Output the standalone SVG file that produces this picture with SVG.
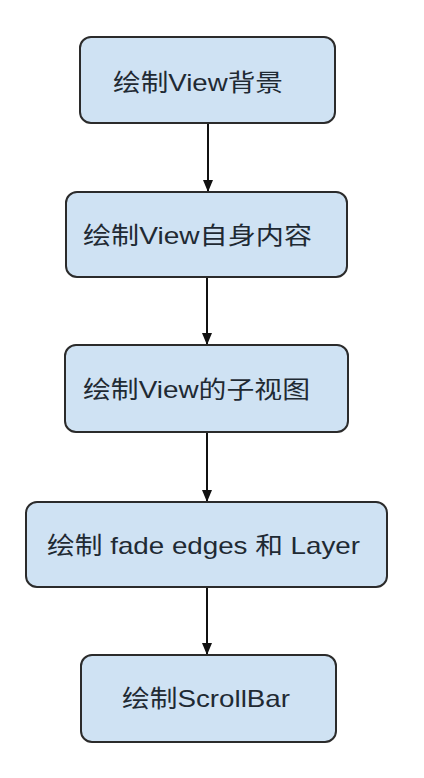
<svg xmlns="http://www.w3.org/2000/svg" width="424" height="778" viewBox="0 0 424 778">
<defs>
<style>
.box{fill:#cfe2f3;stroke:#2b2b2b;stroke-width:2}
.lbl{font-family:"Liberation Sans","Noto Sans CJK SC",sans-serif;font-size:24px;fill:#1f2a33}
.edge{stroke:#111;stroke-width:2;fill:none;marker-end:url(#ah)}
</style>
<marker id="ah" viewBox="0 0 12 10" refX="12" refY="5" markerWidth="12" markerHeight="10" markerUnits="userSpaceOnUse" orient="auto">
<path d="M0,0 L12,5 L0,10 Z" fill="#111"/>
</marker>
</defs>
<rect width="424" height="778" fill="#ffffff"/>
<g id="connectors">
<line class="edge" x1="208" y1="123" x2="208" y2="192"/>
<line class="edge" x1="207" y1="277" x2="207" y2="345"/>
<line class="edge" x1="207" y1="432" x2="207" y2="502"/>
<line class="edge" x1="207" y1="587" x2="207" y2="655"/>
</g>
<g id="n1">
<rect class="box" x="80" y="37" width="255" height="86" rx="11"/>
<text class="lbl" x="113" y="91" textLength="170" lengthAdjust="spacingAndGlyphs">绘制View背景</text>
</g>
<g id="n2">
<rect class="box" x="66" y="192" width="281" height="85" rx="11"/>
<text class="lbl" x="83" y="244" textLength="229" lengthAdjust="spacingAndGlyphs">绘制View自身内容</text>
</g>
<g id="n3">
<rect class="box" x="65" y="345" width="283" height="87" rx="11"/>
<text class="lbl" x="83" y="398" textLength="227" lengthAdjust="spacingAndGlyphs">绘制View的子视图</text>
</g>
<g id="n4">
<rect class="box" x="26" y="502" width="361" height="85" rx="11"/>
<text class="lbl" x="47" y="554" textLength="313" lengthAdjust="spacingAndGlyphs">绘制 fade edges 和 Layer</text>
</g>
<g id="n5">
<rect class="box" x="81" y="655" width="255" height="87" rx="11"/>
<text class="lbl" x="122" y="707" textLength="168" lengthAdjust="spacingAndGlyphs">绘制ScrollBar</text>
</g>
</svg>
